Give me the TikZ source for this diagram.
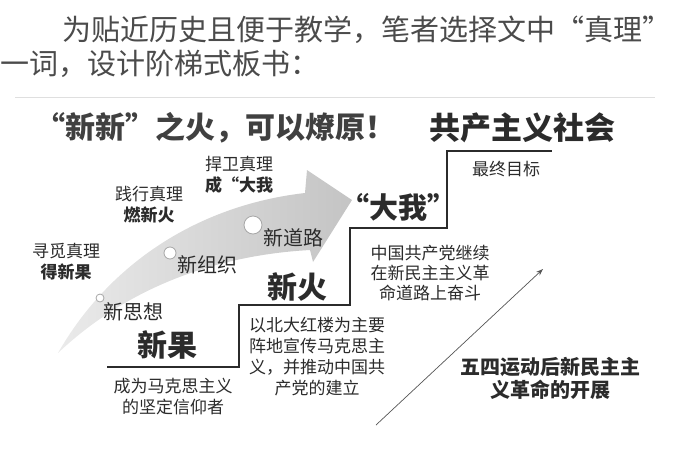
\documentclass[tikz,border=0pt]{standalone}
\usepackage{fontspec}
\setmainfont{Noto Sans CJK SC}
\usepackage{tikz}
\usetikzlibrary{arrows.meta, positioning}
\definecolor{ink}{HTML}{2B2B2B}
\definecolor{swoosh}{HTML}{C4C4C4}
\tikzset{
  para/.style    = {inner sep=0pt, anchor=west, text=ink!85,
                    font=\fontsize{29}{29}\selectfont},
  small/.style   = {inner sep=0pt, align=center, text=ink,
                    font=\fontsize{17}{21}\selectfont},
  mid/.style     = {inner sep=0pt, text=ink, font=\fontsize{20}{23}\selectfont},
  big/.style     = {inner sep=0pt, text=ink, font=\bfseries\fontsize{30}{30}\selectfont},
  dot/.style     = {circle, draw=gray!70, fill=white, inner sep=0pt, line width=0.8pt},
  stair/.style   = {draw=ink, line width=1.6pt},
  arrow/.style   = {draw=ink!80, line width=0.7pt, -{Stealth[length=7pt, width=5pt]}}
}

\begin{document}
\begin{tikzpicture}[x=1pt, y=-1pt]
  \useasboundingbox (0,0) rectangle (700,458);

  % Paragraph text
  \node (line1) [para] at (62,30) {为贴近历史且便于教学，笔者选择文中“真理”};
  \node (line2) [para] at (0,64)  {一词，设计阶梯式板书：};
  \draw[gray!25, line width=0.8pt] (15,97) -- (655,97);

  % Titles
  \node (motto) [big, text=ink!90] at (215,128) {“新新”之火，可以燎原！};
  \node (goal)  [big, font=\bfseries\fontsize{31}{31}\selectfont] at (522,128) {共产主义社会};

  % Swoosh arrow
  \shade[left color=swoosh!35, right color=swoosh]
    (58,353) .. controls (110,262) and (200,205) .. (305,193)
    -- (307,170) -- (352,200) -- (313,262) -- (310,250)
    .. controls (220,255) and (130,285) .. (58,353) -- cycle;
  \node (c1) [dot, minimum size=8pt]  at (100,298) {};
  \node (c2) [dot, minimum size=12pt] at (170,253) {};
  \node (c3) [dot, minimum size=18pt] at (253,225) {};
  \node (sixiang) [mid] at (133,312) {新思想};
  \node (zuzhi)   [mid] at (207,265) {新组织};
  \node (daolu)   [mid] at (293,238) {新道路};

  % Labels above the swoosh
  \node (xunmi)    [small] at (66,262)  {寻觅真理\\\textbf{得新果}};
  \node (jianxing) [small] at (149,205) {践行真理\\\textbf{燃新火}};
  \node (hanwei)   [small] at (239,175) {捍卫真理\\\textbf{成“大我}};

  % Stairs
  \draw[stair] (107,367) -- (239,367) -- (239,305) -- (350,305)
    -- (350,228) -- (447,228) -- (447,151) -- (552,151);

  % Step texts
  \node (xinguo)  [big] at (167,345) {新果};
  \node (marx)    [small] at (173,397) {成为马克思主义\\的坚定信仰者};
  \node (xinhuo)  [big] at (297,287) {新火};
  \node (beida)   [small] at (317,357) {以北大红楼为主要\\阵地宣传马克思主\\义，并推动中国共\\产党的建立};
  \node (dawo)    [big, font=\bfseries\fontsize{29}{29}\selectfont] at (398,207) {“大我”};
  \node (cpc)     [small, font=\fontsize{17}{20}\selectfont] at (430,273) {中国共产党继续\\在新民主主义革\\命道路上奋斗};
  \node (zhongji) [small] at (506,169) {最终目标};

  % Progress arrow
  \coordinate (arrtail) at (376,425);
  \coordinate (arrhead) at (543,269);
  \draw[arrow] (arrtail) -- (arrhead);
  \node (wusi) [mid, align=center, font=\bfseries\fontsize{20}{23}\selectfont] at (550,378)
    {五四运动后新民主主\\义革命的开展};
\end{tikzpicture}
\end{document}
